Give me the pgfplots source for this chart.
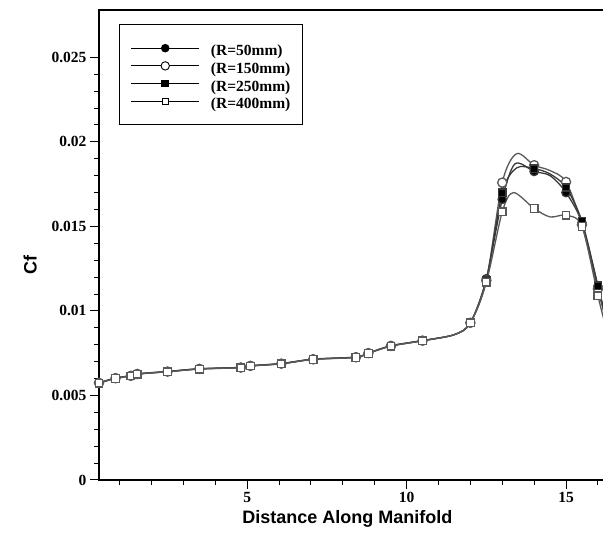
\documentclass[border=0pt]{standalone}
\usepackage{pgfplots}
\pgfplotsset{compat=1.18}
\usepackage{fontspec}
\setmainfont{Liberation Serif}
\newfontfamily\arialfont{Liberation Sans}

\pgfplotsset{
  cfline/.style={smooth, line width=1.3pt, black!78,
    mark indices={1,2,3,4,5,6,7,8,9,10,11,12,13,14,16,17,18,20,22,23,24},
    mark options={solid, draw=black, line width=0.9pt}},
}

\begin{document}
\begin{tikzpicture}
\begin{axis}[
  scale only axis,
  width=530.8pt, height=470pt,
  xmin=0.35, xmax=17, ymin=0, ymax=0.0278,
  axis line style={line width=1.3pt},
  tick style={black, line width=1pt},
  tick align=outside, tick pos=left,
  major tick length=9pt, minor tick length=5pt,
  scaled y ticks=false, scaled x ticks=false,
  xtick={5,10,15}, xticklabels={5,10,15},
  minor xtick={1,2,3,4,6,7,8,9,11,12,13,14,16,17},
  ytick={0,0.005,0.01,0.015,0.02,0.025},
  yticklabels={0,0.005,0.01,0.015,0.02,0.025},
  minor y tick num=4,
  /pgf/number format/assume math mode=true,
  tick label style={font=\bfseries\fontsize{15.5}{15.5}\selectfont},
  xlabel={Distance Along Manifold},
  ylabel={Cf},
  label style={font=\arialfont\bfseries\fontsize{18}{18}\selectfont},
  xlabel style={xshift=-17pt, yshift=-1pt},
  ylabel style={xshift=-20pt, yshift=8pt},
  legend style={at={(0,1)}, anchor=north west, xshift=20pt, yshift=-14pt,
    draw=black, line width=1.4pt, inner xsep=11pt, inner ysep=15pt,
    font=\bfseries\fontsize{15.5}{15.5}\selectfont,
    row sep=0.7pt,
    nodes={inner sep=1pt, text height=15pt, text depth=0pt}},
  legend cell align=left,
  legend image code/.code={\draw[mark repeat=2,mark phase=2,line width=1.1pt]
    plot coordinates {(0pt,0pt)(34pt,0pt)(68pt,0pt)};
    \path (78pt,0pt);},
]
\addlegendimage{black, mark=*, mark size=3.7pt, mark options={solid, fill=black}}
\addlegendentry{(R=50mm)}
\addlegendimage{black, mark=*, mark size=4.2pt, mark options={solid, fill=white, line width=0.9pt}}
\addlegendentry{(R=150mm)}
\addlegendimage{black, mark=square*, mark size=3.2pt, mark options={solid, fill=black}}
\addlegendentry{(R=250mm)}
\addlegendimage{black, mark=square*, mark size=3.2pt, mark options={solid, fill=white, line width=0.9pt}}
\addlegendentry{(R=400mm)}

% R = 50 mm
\addplot[cfline, forget plot, mark=*, mark size=4.2pt, mark options={fill=black}] coordinates {
(0.35,0.00575)(0.87,0.00603)(1.35,0.00617)(1.55,0.00628)(2.5,0.00642)(3.5,0.00658)
(4.8,0.00666)(5.1,0.00676)(6.07,0.00689)(7.07,0.00715)(8.41,0.00727)(8.8,0.00751)
(9.51,0.00794)(10.5,0.00825)(11.5,0.0086)(12.0,0.0093)(12.5,0.0119)(13.0,0.0166)
(13.4,0.0187)(14.0,0.01825)(14.5,0.0180)(15.0,0.0170)(15.5,0.0152)(16.0,0.01145)(16.2,0.0099)};
% R = 150 mm
\addplot[cfline, forget plot, black!65, mark=*, mark size=4.6pt, mark options={fill=white}] coordinates {
(0.35,0.00574)(0.87,0.00602)(1.35,0.00616)(1.55,0.00627)(2.5,0.00641)(3.5,0.00657)
(4.8,0.00665)(5.1,0.00675)(6.07,0.00688)(7.07,0.00714)(8.41,0.00726)(8.8,0.00750)
(9.51,0.00793)(10.5,0.00824)(11.5,0.0086)(12.0,0.0093)(12.5,0.0118)(13.0,0.01759)
(13.45,0.0193)(14.0,0.01862)(14.5,0.0183)(15.0,0.01763)(15.5,0.0151)(16.0,0.0113)(16.2,0.0098)};
% R = 250 mm
\addplot[cfline, forget plot, mark=square*, mark size=3.6pt, mark options={fill=black}] coordinates {
(0.35,0.00574)(0.87,0.00602)(1.35,0.00616)(1.55,0.00627)(2.5,0.00641)(3.5,0.00657)
(4.8,0.00665)(5.1,0.00675)(6.07,0.00688)(7.07,0.00714)(8.41,0.00726)(8.8,0.00750)
(9.51,0.00793)(10.5,0.00824)(11.5,0.0086)(12.0,0.0093)(12.5,0.0118)(13.0,0.0170)
(13.45,0.01846)(14.0,0.01842)(14.5,0.0181)(15.0,0.0173)(15.5,0.0153)(16.0,0.0115)(16.2,0.0100)};
% R = 400 mm
\addplot[cfline, forget plot, black!65, mark=square*, mark size=3.8pt, mark options={fill=white}] coordinates {
(0.35,0.00572)(0.87,0.00601)(1.35,0.00615)(1.55,0.00626)(2.5,0.00640)(3.5,0.00656)
(4.8,0.00664)(5.1,0.00674)(6.07,0.00687)(7.07,0.00713)(8.41,0.00725)(8.8,0.00749)
(9.51,0.00792)(10.5,0.00823)(11.5,0.0086)(12.0,0.0093)(12.5,0.0117)(13.0,0.01586)
(13.35,0.0170)(14.0,0.01606)(14.5,0.01556)(15.0,0.01566)(15.5,0.0150)(16.0,0.0109)(16.2,0.0094)};

\coordinate (TR) at (axis cs:16.16,0.0278);
\end{axis}
\pgfresetboundingbox
\useasboundingbox ([xshift=-99pt,yshift=-53pt]current axis.south west) rectangle ([yshift=10pt]TR);
\end{tikzpicture}
\end{document}
